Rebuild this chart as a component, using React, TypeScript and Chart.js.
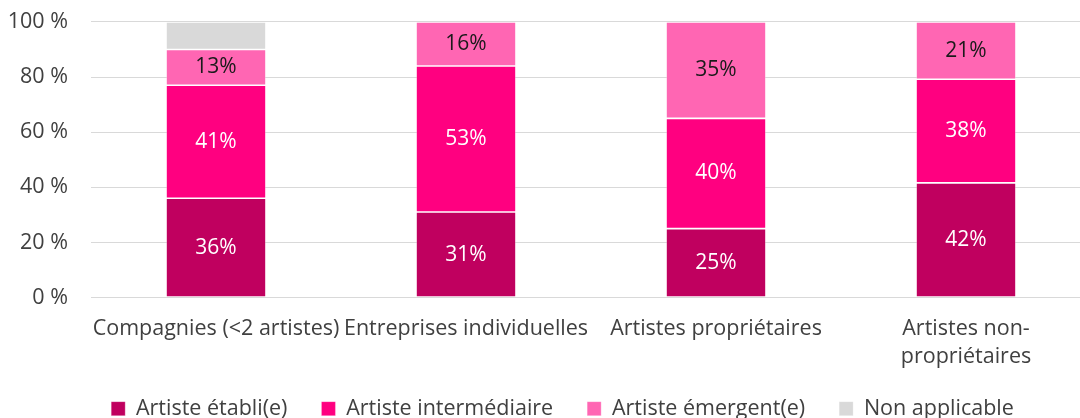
import React, { useEffect, useRef } from "react";
import { Chart, registerables } from "chart.js";

Chart.register(...registerables);

const categories: (string | string[])[] = [
  "Compagnies (<2 artistes)",
  "Entreprises individuelles",
  "Artistes propriétaires",
  ["Artistes non-", "propriétaires"],
];
const seriesNames = ["Artiste établi(e)", "Artiste intermédiaire", "Artiste émergent(e)", "Non applicable"];
const etabli = [36, 31, 25, 42];
const intermediaire = [41, 53, 40, 38];
const emergent = [13, 16, 35, 21];
const nonApplicable = [10, 0, 0, 0];
const yTicks = [0, 20, 40, 60, 80, 100];

const colors = ["#C0005F", "#FF0080", "#FF66B3", "#D9D9D9"];
const labelColors = ["#FFFFFF", "#FFFFFF", "#1A1A1A", null];
const FONT = "'Open Sans'";
const PLOT_TOP = 22; // on screen
const LEGEND_TOP = 364; // on screen
const LEGEND_SHIFT_X = 17;

export default function App() {
  const ref = useRef<HTMLCanvasElement | null>(null);
  useEffect(() => {
    const raw = [etabli, intermediaire, emergent, nonApplicable];
    const totals = categories.map((_, i) => raw.reduce((s, arr) => s + arr[i], 0));
    const share = (arr: number[]) => arr.map((v, i) => (v / totals[i]) * 100);

    const labelPlugin = {
      id: "segLabels",
      afterLayout(chart: any) {
        const lg = chart.legend;
        const off = chart.chartArea.top - PLOT_TOP;
        if (lg) {
          const d = LEGEND_TOP + off - lg.top;
          lg.top += d;
          lg.bottom += d;
          lg.left += LEGEND_SHIFT_X;
          lg.right += LEGEND_SHIFT_X;
        }
      },
      afterDatasetsDraw(chart: any) {
        const ctx = chart.ctx;
        ctx.save();
        ctx.font = `21px ${FONT}`;
        ctx.textAlign = "center";
        ctx.textBaseline = "middle";
        chart.data.datasets.forEach((ds: any, di: number) => {
          const col = labelColors[di];
          if (!col) return;
          const meta = chart.getDatasetMeta(di);
          meta.data.forEach((bar: any, i: number) => {
            const v = raw[di][i];
            if (!v) return;
            ctx.fillStyle = col;
            const p = bar.getProps(["x", "y", "base"], true);
            ctx.fillText(v + "%", p.x, (p.y + p.base) / 2);
          });
        });
        ctx.restore();
      },
    };

    const canvas = ref.current!;
    const chart = new Chart(canvas, {
      type: "bar",
      data: {
        labels: categories as any,
        datasets: raw.map((arr, di) => ({
          label: seriesNames[di],
          data: share(arr),
          backgroundColor: colors[di],
          borderColor: "rgba(255,255,255,0.35)",
          borderWidth: 0.8,
          borderSkipped: false,
          barPercentage: 0.4,
          categoryPercentage: 1,
        })),
      },
      options: {
        responsive: false,
        animation: false,
        layout: { padding: { top: 9, left: 0, right: 29, bottom: 0 } },
        plugins: {
          tooltip: { enabled: false },
          legend: {
            position: "bottom",
            labels: {
              boxWidth: 14,
              boxHeight: 14,
              padding: 34,
              color: "#404040",
              font: { family: FONT, size: 21.5 },
            },
          },
        },
        scales: {
          x: {
            stacked: true,
            grid: { display: false, drawTicks: false },
            border: { display: false },
            ticks: {
              color: "#404040",
              padding: 17,
              maxRotation: 0,
              autoSkip: false,
              font: { family: FONT, size: 21.5, lineHeight: 1.3 },
            },
            afterFit: (s: any) => {
              s.height = 80;
            },
          },
          y: {
            stacked: true,
            min: 0,
            max: 100,
            afterBuildTicks: (s: any) => {
              s.ticks = yTicks.map((v) => ({ value: v }));
            },
            grid: { color: "#D9D9D9", lineWidth: 1, drawTicks: false },
            border: { display: false },
            ticks: {
              color: "#404040",
              padding: 23,
              font: { family: FONT, size: 21.5 },
              callback: (v: any) => v + " %",
            },
            afterFit: (s: any) => {
              s.width = 91;
            },
          },
        },
      },
      plugins: [labelPlugin],
    });
    canvas.style.marginTop = PLOT_TOP - chart.chartArea.top + "px";
    return () => chart.destroy();
  }, []);

  return (
    <div style={{ position: "fixed", left: 0, top: 0, width: 1080, height: 418, overflow: "hidden", background: "#fff" }}>
      <canvas ref={ref} width={1120} height={457} style={{ display: "block" }} />
    </div>
  );
}
